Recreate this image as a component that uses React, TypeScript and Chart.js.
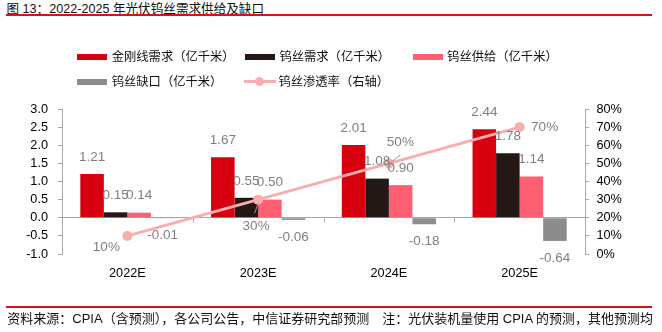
import React, { useEffect, useRef } from "react";
import { Chart, registerables } from "chart.js";

Chart.register(...registerables);

// ---------- data ----------
const categories = ["2022E", "2023E", "2024E", "2025E"];
const diamondWireDemand = [1.21, 1.67, 2.01, 2.44];
const tungstenDemand = [0.15, 0.55, 1.08, 1.78];
const tungstenSupply = [0.14, 0.5, 0.9, 1.14];
const tungstenGap = [-0.01, -0.06, -0.18, -0.64];
const penetrationRate = [10, 30, 50, 70];

const seriesNames = [
  "金刚线需求（亿千米）",
  "钨丝需求（亿千米）",
  "钨丝供给（亿千米）",
  "钨丝缺口（亿千米）",
  "钨丝渗透率（右轴）",
];

const leftAxisRange = { min: -1, max: 3, step: 0.5 };
const rightAxisRange = { min: 0, max: 80, step: 10 };

const titleText = "图 13：2022-2025 年光伏钨丝需求供给及缺口";
const sourceText =
  "资料来源：CPIA（含预测），各公司公告，中信证券研究部预测　注：光伏装机量使用 CPIA 的预测，其他预测均";

// ---------- styles ----------
const COLORS = {
  red: "#D7000F",
  black: "#231815",
  pink: "#FF5F73",
  gray: "#8C8C8C",
  line: "#F9ADAD",
  axis: "#A6A6A6",
  label: "#7F7F7F",
  rule: "#D0161B",
};
const barColors = [COLORS.red, COLORS.black, COLORS.pink, COLORS.gray];

// label placement for the penetration-rate points (pixel offsets from each point)
const penLabelOffsets = [
  [-21, 11.5],
  [-2, 26.5],
  [11.5, -21],
  [25, 0.5],
];
const penLeaderLines: (number[] | null)[] = [
  null,
  [0, 3.5, -3.4, 13.5],
  [11.5, -8.5, 1.5, -0.5],
  null,
];

const LATIN = "'Liberation Sans', Arial, 'Noto Sans CJK SC', sans-serif";

const dataLabelPlugin = {
  id: "dataLabels",
  afterDatasetsDraw(chart: any) {
    const ctx = chart.ctx;
    ctx.save();
    ctx.font = `13.5px ${LATIN}`;
    ctx.fillStyle = COLORS.label;
    ctx.textAlign = "center";
    ctx.textBaseline = "middle";
    chart.data.datasets.forEach((ds: any, di: number) => {
      const meta = chart.getDatasetMeta(di);
      if (ds.type === "line") {
        meta.data.forEach((el: any, i: number) => {
          const off = penLabelOffsets[i];
          ctx.fillText(ds.data[i] + "%", el.x + off[0], el.y + off[1]);
          const ll = penLeaderLines[i];
          if (ll) {
            ctx.save();
            ctx.strokeStyle = "#9A9A9A";
            ctx.lineWidth = 1;
            ctx.beginPath();
            ctx.moveTo(el.x + ll[0], el.y + ll[1]);
            ctx.lineTo(el.x + ll[2], el.y + ll[3]);
            ctx.stroke();
            ctx.restore();
          }
        });
      } else {
        meta.data.forEach((el: any, i: number) => {
          const v = ds.data[i];
          const y = v >= 0 ? el.y - 17 : el.y + 17;
          ctx.fillText(v.toFixed(2), el.x, y);
        });
      }
    });
    ctx.restore();
  },
};

const categoryTickPlugin = {
  id: "categoryTicks",
  beforeDatasetsDraw(chart: any) {
    const x = chart.scales.x;
    const y = chart.scales.y;
    const ctx = chart.ctx;
    const n = categories.length;
    const w = (x.right - x.left) / n;
    const y0 = Math.round(y.getPixelForValue(0)) + 0.5;
    ctx.save();
    ctx.strokeStyle = COLORS.axis;
    ctx.lineWidth = 1;
    ctx.beginPath();
    for (let i = 0; i <= n; i++) {
      const px = Math.round(x.left + i * w) + 0.5;
      ctx.moveTo(px, y0);
      ctx.lineTo(px, y0 + 4);
    }
    ctx.stroke();
    ctx.restore();
  },
};

function ChartCanvas() {
  const ref = useRef<HTMLCanvasElement | null>(null);
  useEffect(() => {
    if (!ref.current) return;
    const barSets = [diamondWireDemand, tungstenDemand, tungstenSupply, tungstenGap].map(
      (d, i) => ({
        type: "bar" as const,
        label: seriesNames[i],
        data: d,
        backgroundColor: barColors[i],
        borderWidth: 0,
        yAxisID: "y",
        order: 1,
        categoryPercentage: 0.72,
        barPercentage: 1.0,
      })
    );
    const chart = new Chart(ref.current, {
      type: "bar",
      data: {
        labels: categories,
        datasets: [
          ...barSets,
          {
            type: "line" as const,
            label: seriesNames[4],
            data: penetrationRate,
            borderColor: COLORS.line,
            backgroundColor: COLORS.line,
            borderWidth: 3,
            pointRadius: 5,
            pointBorderWidth: 0,
            pointBackgroundColor: COLORS.line,
            yAxisID: "y1",
            order: 0,
          },
        ] as any,
      },
      options: {
        animation: false,
        responsive: false,
        devicePixelRatio: 1,
        layout: { padding: { top: 109, left: 0, right: 0, bottom: 0 } },
        plugins: {
          legend: { display: false },
          title: { display: false },
          tooltip: { enabled: false },
        },
        scales: {
          x: {
            type: "category",
            offset: true,
            grid: { display: false },
            border: { display: false },
            ticks: {
              color: "#000",
              font: { family: LATIN, size: 12.7 },
              padding: 4,
              maxRotation: 0,
            },
            afterFit: (s: any) => {
              s.height = 78;
            },
          },
          y: {
            position: "left",
            min: leftAxisRange.min,
            max: leftAxisRange.max,
            ticks: {
              stepSize: leftAxisRange.step,
              autoSkip: false,
              color: "#000",
              font: { family: LATIN, size: 12.7 },
              padding: 10,
              callback: (v: any) => Number(v).toFixed(1),
            },
            grid: {
              drawOnChartArea: true,
              color: (c: any) => (c.tick && c.tick.value === 0 ? COLORS.axis : "rgba(0,0,0,0)"),
              tickColor: COLORS.axis,
              tickLength: 4,
            },
            border: { display: true, color: COLORS.axis },
            afterFit: (s: any) => {
              s.width = 62;
            },
          },
          y1: {
            position: "right",
            min: rightAxisRange.min,
            max: rightAxisRange.max,
            ticks: {
              stepSize: rightAxisRange.step,
              autoSkip: false,
              color: "#000",
              font: { family: LATIN, size: 12.7 },
              padding: 7.5,
              callback: (v: any) => v + "%",
            },
            grid: {
              drawOnChartArea: false,
              tickColor: COLORS.axis,
              tickLength: 4,
            },
            border: { display: true, color: COLORS.axis },
            afterFit: (s: any) => {
              s.width = 77;
            },
          },
        },
      } as any,
      plugins: [categoryTickPlugin, dataLabelPlugin],
    });
    return () => chart.destroy();
  }, []);
  return (
    <canvas
      ref={ref}
      width={662}
      height={332}
      style={{ position: "absolute", left: 0, top: 0, width: 662, height: 332 }}
    />
  );
}

const CJK = "'Liberation Sans', Arial, 'Noto Sans CJK SC', sans-serif";

function LegendItem({ x, y, kind, color, text }: any) {
  return (
    <div style={{ position: "absolute", left: x, top: y - 9, height: 18, width: 170 }}>
      {kind === "bar" ? (
        <div
          style={{ position: "absolute", left: 0, top: 6, width: 30, height: 6, background: color }}
        />
      ) : (
        <>
          <div
            style={{ position: "absolute", left: 0, top: 7.5, width: 32, height: 3, background: color }}
          />
          <div
            style={{
              position: "absolute",
              left: 11,
              top: 4.5,
              width: 9,
              height: 9,
              borderRadius: "50%",
              background: color,
            }}
          />
        </>
      )}
      <div
        style={{
          position: "absolute",
          left: 34.4,
          top: 0,
          lineHeight: "18px",
          fontSize: 12.3,
          fontFamily: CJK,
          color: "#111",
          whiteSpace: "nowrap",
        }}
      >
        {text}
      </div>
    </div>
  );
}

export default function App() {
  const colX = [77.3, 245, 412.7];
  const rowY = [56.7, 81.7];
  return (
    <div
      style={{
        position: "absolute",
        left: 0,
        top: 0,
        width: 662,
        height: 332,
        background: "#fff",
        overflow: "hidden",
      }}
    >
      <div
        style={{
          position: "absolute",
          left: 6.5,
          top: 0,
          lineHeight: "19px",
          fontSize: 12.6,
          fontFamily: CJK,
          color: "#111",
          whiteSpace: "nowrap",
        }}
      >
        {titleText}
      </div>
      <div
        style={{
          position: "absolute",
          left: 6,
          top: 14.3,
          width: 646,
          height: 1.5,
          background: COLORS.rule,
        }}
      />
      <ChartCanvas />
      <LegendItem x={colX[0]} y={rowY[0]} kind="bar" color={barColors[0]} text={seriesNames[0]} />
      <LegendItem x={colX[1]} y={rowY[0]} kind="bar" color={barColors[1]} text={seriesNames[1]} />
      <LegendItem x={colX[2]} y={rowY[0]} kind="bar" color={barColors[2]} text={seriesNames[2]} />
      <LegendItem x={colX[0]} y={rowY[1]} kind="bar" color={barColors[3]} text={seriesNames[3]} />
      <LegendItem x={colX[1] - 1} y={rowY[1]} kind="line" color={COLORS.line} text={seriesNames[4]} />
      <div
        style={{
          position: "absolute",
          left: 6,
          top: 306,
          width: 646,
          height: 1.5,
          background: COLORS.rule,
        }}
      />
      <div
        style={{
          position: "absolute",
          left: 7.3,
          top: 309,
          lineHeight: "19px",
          fontSize: 13,
          fontFamily: CJK,
          color: "#111",
          whiteSpace: "nowrap",
        }}
      >
        {sourceText}
      </div>
    </div>
  );
}
